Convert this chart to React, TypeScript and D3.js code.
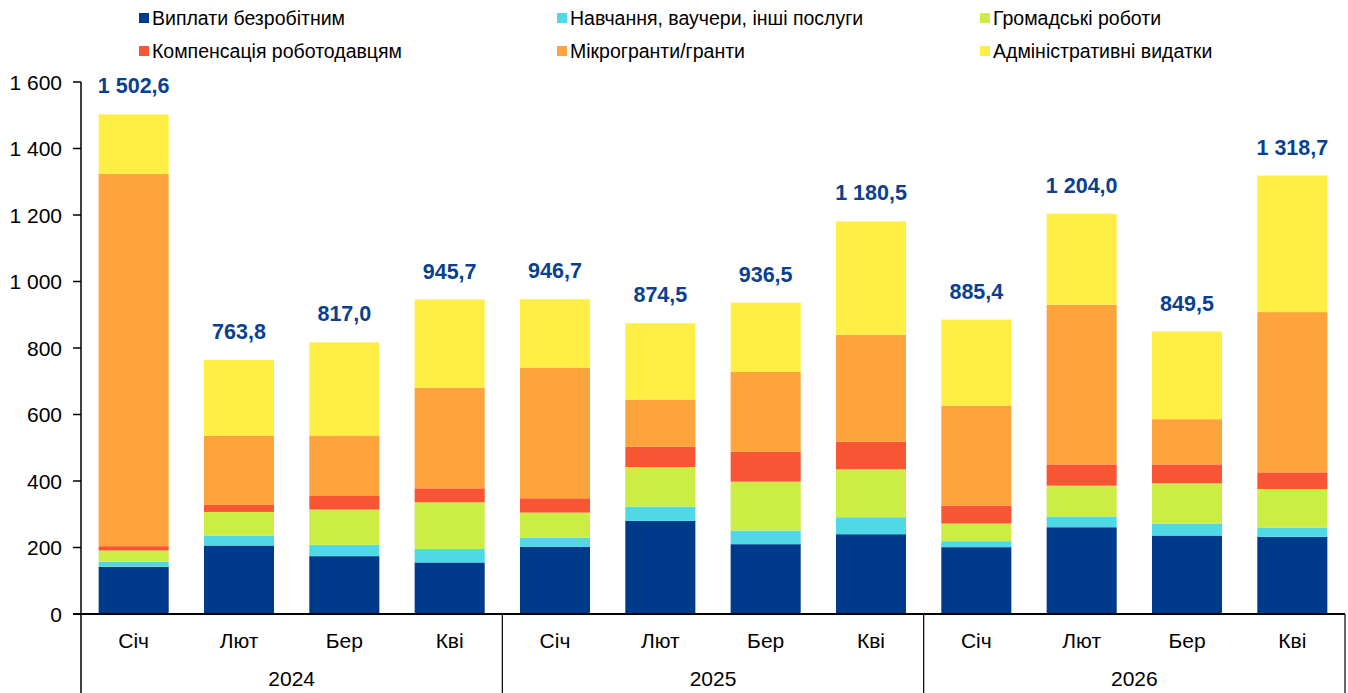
import React from "react";
import * as d3 from "d3";

const months = ["Січ", "Лют", "Бер", "Кві", "Січ", "Лют", "Бер", "Кві", "Січ", "Лют", "Бер", "Кві"];
const years = ["2024", "2025", "2026"];
const seriesNames = [
  "Виплати безробітним",
  "Навчання, ваучери, інші послуги",
  "Громадські роботи",
  "Компенсація роботодавцям",
  "Мікрогранти/гранти",
  "Адміністративні видатки",
];
const colors = ["#003A8A", "#4FD9E6", "#CCEE44", "#F85535", "#FFA33C", "#FFEE44"];

const unemployment = [142, 206, 174, 155, 202, 280, 210, 240, 201, 261, 236, 232];
const training = [15, 30, 34, 41, 27, 43, 41, 51, 18, 32, 36, 28];
const publicWorks = [34, 71, 106, 140, 76, 119, 147, 144, 53, 93, 121, 116];
const compensation = [13, 21, 41, 42, 43, 61, 90, 83, 54, 64, 57, 50];
const grants = [1120, 208, 182, 303, 393, 142, 240, 322, 301, 480, 136, 482];
const admin = [178.6, 227.8, 280, 264.7, 205.7, 229.5, 208.5, 340.5, 258.4, 274, 263.5, 410.7];
const totals = [1502.6, 763.8, 817.0, 945.7, 946.7, 874.5, 936.5, 1180.5, 885.4, 1204.0, 849.5, 1318.7];
const yTicks = [0, 200, 400, 600, 800, 1000, 1200, 1400, 1600];

const W = 1348;
const H = 693;
const left = 81;
const right = 1345;
const top = 82;
const bottom = 614;
const font = "'Liberation Sans', Arial, sans-serif";

function fmtInt(v: number) {
  const s = String(Math.round(v));
  return s.replace(/\B(?=(\d{3})+(?!\d))/g, " ");
}
function fmtDec(v: number) {
  const [i, d] = v.toFixed(1).split(".");
  return fmtInt(Number(i)) + "," + d;
}

export default function App() {
  const series = [unemployment, training, publicWorks, compensation, grants, admin];
  const idx = months.map((_, i) => i);
  const x = d3.scaleBand<number>().domain(idx).range([left, right]).paddingInner(0.335).paddingOuter(0.1675);
  const y = d3.scaleLinear().domain([0, 1600]).range([bottom, top]);
  const table = idx.map((i) => {
    const o: any = { i };
    series.forEach((s, k) => (o["s" + k] = s[i]));
    return o;
  });
  const stack = d3.stack<any>().keys(series.map((_, k) => "s" + k))(table);
  const groupW = (right - left) / years.length;

  const legendCols = [139, 557, 980];
  const legendRows = [18, 51];

  return (
    <svg width={W} height={H} style={{ position: "absolute", left: 0, top: 0, background: "#fff" }} fontFamily={font}>
      {/* legend */}
      {seriesNames.map((n, k) => {
        const lx = legendCols[k % 3];
        const ly = legendRows[Math.floor(k / 3)];
        return (
          <g key={n}>
            <rect x={lx} y={ly - 5} width={10} height={10} fill={colors[k]} />
            <text x={lx + 13} y={ly + 6.5} fontSize={19.5} fill="#000" textLength={undefined}>
              {n}
            </text>
          </g>
        );
      })}
      {/* bars */}
      {stack.map((layer, k) => (
        <g key={k} fill={colors[k]}>
          {layer.map((d, i) => (
            <rect key={i} x={x(i)} y={y(d[1])} width={x.bandwidth()} height={Math.max(0, y(d[0]) - y(d[1]))} />
          ))}
        </g>
      ))}
      {/* total labels */}
      {totals.map((t, i) => (
        <text
          key={i}
          x={(x(i) as number) + x.bandwidth() / 2}
          y={y(t) - 21}
          textAnchor="middle"
          fontSize={21.5}
          fontWeight="bold"
          fill="#0B3F8F"
        >
          {fmtDec(t)}
        </text>
      ))}
      {/* y axis */}
      <line x1={left} x2={left} y1={top} y2={H} stroke="#000" strokeWidth={1.5} />
      {yTicks.map((t) => (
        <g key={t}>
          <line x1={left - 8} x2={left} y1={y(t)} y2={y(t)} stroke="#000" strokeWidth={1.5} />
          <text x={left - 19} y={y(t) + 7.5} textAnchor="end" fontSize={21} fill="#000">
            {fmtInt(t)}
          </text>
        </g>
      ))}
      {/* x axis */}
      <line x1={left - 8} x2={right} y1={bottom} y2={bottom} stroke="#000" strokeWidth={2} />
      {years.map((yr, g) => (
        <g key={yr}>
          <line x1={left + groupW * (g + 1)} x2={left + groupW * (g + 1)} y1={bottom} y2={H} stroke="#000" strokeWidth={1.2} />
          <text x={left + groupW * (g + 0.5)} y={686} textAnchor="middle" fontSize={21} fill="#000">
            {yr}
          </text>
        </g>
      ))}
      {months.map((m, i) => (
        <text key={i} x={(x(i) as number) + x.bandwidth() / 2} y={648} textAnchor="middle" fontSize={21} fill="#000">
          {m}
        </text>
      ))}
    </svg>
  );
}
